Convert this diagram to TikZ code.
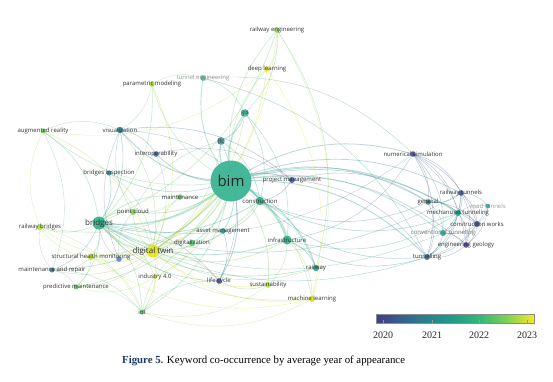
\documentclass[tikz,border=0pt]{standalone}
\usepackage{fontspec}
\setmainfont{Liberation Serif}
\newfontfamily\labfont{Open Sans}
\definecolor{vA}{HTML}{433E85}
\definecolor{vB}{HTML}{34618D}
\definecolor{vC}{HTML}{26828E}
\definecolor{vD}{HTML}{1F9E89}
\definecolor{vE}{HTML}{35B779}
\definecolor{vF}{HTML}{7AD151}
\definecolor{vG}{HTML}{FDE725}
\pgfdeclarehorizontalshading{viridisbar}{100bp}{color(0bp)=(vA); color(25bp)=(vA); color(33bp)=(vB); color(41bp)=(vC); color(50bp)=(vD); color(58bp)=(vE); color(66bp)=(vF); color(75bp)=(vG); color(100bp)=(vG)}
\definecolor{cbim}{HTML}{3DB595}
\definecolor{creng}{HTML}{8AD34D}
\definecolor{cdl}{HTML}{E3E419}
\definecolor{cteng}{HTML}{2DB27D}
\definecolor{cpmod}{HTML}{9DD93B}
\definecolor{cgis}{HTML}{3AB598}
\definecolor{car}{HTML}{6CCD5A}
\definecolor{cvis}{HTML}{2C728E}
\definecolor{clfc}{HTML}{3A98A0}
\definecolor{cinter}{HTML}{31688E}
\definecolor{cbrin}{HTML}{26828E}
\definecolor{cprm}{HTML}{3B528B}
\definecolor{ccons}{HTML}{22A785}
\definecolor{cmaint}{HTML}{5EC962}
\definecolor{cpc}{HTML}{7AD151}
\definecolor{cbr}{HTML}{25AB82}
\definecolor{crbr}{HTML}{A5DB36}
\definecolor{cam}{HTML}{1F9A8A}
\definecolor{cdig}{HTML}{4AC16D}
\definecolor{cdt}{HTML}{E5E419}
\definecolor{cshm}{HTML}{BDDF26}
\definecolor{cshmb}{HTML}{5A7DC0}
\definecolor{cmr}{HTML}{2A788E}
\definecolor{cpdm}{HTML}{54C568}
\definecolor{cind}{HTML}{D2E21B}
\definecolor{clc}{HTML}{3E4989}
\definecolor{ciot}{HTML}{5CC76E}
\definecolor{cinfra}{HTML}{25AB82}
\definecolor{csus}{HTML}{A8DB34}
\definecolor{crw}{HTML}{1F9E89}
\definecolor{cml}{HTML}{D8E219}
\definecolor{cns}{HTML}{414487}
\definecolor{crt}{HTML}{3B528B}
\definecolor{croad}{HTML}{21918C}
\definecolor{cgen}{HTML}{2C728E}
\definecolor{cmech}{HTML}{1F9E89}
\definecolor{ccw}{HTML}{3E4989}
\definecolor{cconv}{HTML}{20A486}
\definecolor{cgeo}{HTML}{443983}
\definecolor{ctun}{HTML}{31688E}
\definecolor{labgrey}{HTML}{333333}
\definecolor{capblue}{HTML}{1F3A68}
\begin{document}
\begin{tikzpicture}[x=1pt,y=-1pt,
  edge/.style={line width=#1, draw opacity=0.32},
  dot/.style={circle, inner sep=0pt, minimum size=#1, fill opacity=0.85},
  lab/.style={font=\labfont\fontsize{6}{7}\selectfont, text=labgrey, inner sep=0.5pt},
  biglab/.style={font=\labfont\fontsize{8}{9}\selectfont, text=labgrey, inner sep=0.5pt},
  fadelab/.style={font=\labfont\fontsize{6}{7}\selectfont, text=black!40, inner sep=0.5pt},
  ticklab/.style={font=\fontsize{10}{12}\selectfont, text=black!85, inner sep=0pt}]
\useasboundingbox (0,0) rectangle (553,381);
\fill[white] (0,0) rectangle (553,381);
% node coordinates
\foreach \n/\x/\y in {bim/231/181, reng/277/30, dl/267/69, teng/203/78, pmod/152/84, gis/245/113,
  ar/43/131, vis/120/130, lfc/221/141, inter/156/154, brin/109/173, prm/292/180, cons/260/201,
  maint/180/197, pc/133/212, br/99/223, rbr/40/227, am/223/231, dig/192/243, dt/153/251,
  shm/91/257, shmb/119/259, mr/52/270, pdm/76/287, ind/155/277, lc/219/281, iot/142/312,
  infra/287/240, sus/268/285, rw/316/268, ml/312/299, ns/413/154, rt/461/193, road/488/206,
  gen/428/202, mech/458/213, cw/477/224, conv/443/233, geo/466/245, tun/427/257}
  \coordinate (\n) at (\x,\y);
% edges
\foreach \a/\b/\w in {bim/reng/0.6, bim/dl/0.6, bim/teng/0.9, bim/pmod/0.6, bim/gis/1.2, bim/vis/1.0,
  bim/lfc/1.2, bim/inter/0.9, bim/brin/0.7, bim/prm/1.0, bim/cons/1.6, bim/maint/0.9, bim/pc/0.9,
  bim/br/1.6, bim/rbr/0.6, bim/am/0.9, bim/dig/0.9, bim/dt/1.6, bim/shm/0.8, bim/mr/0.6, bim/pdm/0.6,
  bim/ind/0.7, bim/lc/0.8, bim/iot/0.6, bim/infra/1.4, bim/sus/0.7, bim/rw/0.8, bim/ml/0.6,
  bim/ns/0.8, bim/rt/0.8, bim/gen/0.8, bim/mech/1.0, bim/cw/0.7, bim/conv/0.8, bim/geo/0.6,
  bim/tun/1.0, bim/ar/0.6,
  reng/dl/0.6, reng/gis/0.6, reng/br/0.6, reng/dt/0.6, reng/rw/0.5, reng/ml/0.4, dl/dt/0.8,
  dl/ml/0.5, dl/ar/0.4, pmod/br/0.6, pmod/dt/0.5, pmod/vis/0.4, pmod/teng/0.4, teng/gis/0.5,
  teng/tun/0.5, teng/ns/0.4, gis/lfc/0.9, gis/cons/0.6, gis/infra/0.6, gis/dt/0.6, ar/br/0.6,
  ar/dt/0.6, ar/vis/0.4, ar/mr/0.4, vis/inter/0.5, vis/br/0.6, vis/prm/0.6, vis/cons/0.5,
  vis/dt/0.5, lfc/cons/0.6, lfc/dt/0.5, lfc/lc/0.5, inter/dt/0.5, inter/prm/0.4, brin/br/0.7,
  brin/dt/0.5, prm/gen/0.5, prm/tun/0.5, prm/cons/0.6, ns/tun/0.6, ns/rt/0.5, ns/gen/0.5,
  ns/mech/0.5, ns/cw/0.5, ns/geo/0.4, ns/conv/0.5, ns/infra/0.5, ns/br/0.4, rt/gen/0.6,
  rt/mech/0.6, rt/road/0.5, rt/cw/0.5, rt/conv/0.5, rt/geo/0.5, rt/tun/0.5, gen/mech/0.6,
  gen/cw/0.5, gen/conv/0.5, gen/tun/0.5, mech/cw/0.6, mech/conv/0.6, mech/geo/0.5, mech/tun/0.6,
  mech/road/0.4, cw/geo/0.5, cw/conv/0.5, cw/tun/0.5, conv/geo/0.5, conv/tun/0.6, geo/tun/0.5,
  road/cw/0.4, road/geo/0.4, road/tun/0.4, tun/cons/0.6, tun/infra/0.6, tun/br/0.5, gen/cons/0.6,
  mech/cons/0.7, mech/infra/0.6, conv/br/0.5, rt/br/0.5, cons/infra/0.8, cons/dt/0.8,
  cons/br/0.8, cons/rw/0.6, cons/am/0.6, infra/dt/0.8, infra/br/0.8, infra/rw/0.7, infra/sus/0.5,
  infra/ml/0.5, rw/br/0.6, rw/dt/0.6, ml/dt/0.7, ml/shm/0.5, ml/iot/0.5, ml/br/0.5, sus/dt/0.6,
  sus/lc/0.5, sus/iot/0.4, dt/br/1.4, dt/pc/0.8, dt/maint/0.7, dt/dig/0.8, dt/am/0.7, dt/shm/0.9,
  dt/ind/0.7, dt/iot/0.7, dt/lc/0.6, dt/pdm/0.6, dt/mr/0.5, dt/rbr/0.5, br/pc/0.8, br/shm/0.8,
  br/mr/0.6, br/rbr/0.6, br/maint/0.7, br/pdm/0.5, br/iot/0.5, br/ind/0.5, br/lc/0.5, shm/pdm/0.5,
  shm/mr/0.5, shm/iot/0.5, shm/rbr/0.5, mr/rbr/0.4, mr/pdm/0.4, mr/iot/0.4, pdm/iot/0.4,
  ind/iot/0.5, ind/pdm/0.4, iot/lc/0.4, iot/dig/0.5, maint/pc/0.5, dig/ind/0.5, am/lc/0.5,
  am/dig/0.5, lc/br/0.5, shmb/br/0.5, shmb/pc/0.5, shmb/vis/0.5, shmb/dt/0.5, rbr/iot/0.4,
  rbr/ar/0.4, pc/vis/0.5, pc/lfc/0.5}
  \draw[edge=\w pt, draw=c\a!50!c\b] (\a) to[bend left=24] (\b);
% dots
\foreach \n/\r in {reng/5.6, dl/5.6, teng/5.6, pmod/5.6, gis/7.6, ar/5, vis/6.4, lfc/7.6, inter/5.6,
  brin/5, prm/6, cons/8.4, maint/5.6, pc/6, br/13, rbr/6, am/5.6, dig/6.4, dt/13, shm/6, shmb/5.6,
  mr/5, pdm/5, ind/4, lc/5.6, iot/5, infra/9, sus/5.6, rw/6.4, ml/6, ns/5.6, rt/5.6, road/4.4,
  gen/5.6, mech/6, cw/6, conv/6, geo/5.6, tun/6}
  \node[dot=\r pt, fill=c\n] (\n-d) at (\n) {};
\node[dot=41pt, fill=cbim, fill opacity=0.95] (bim-d) at (bim) {};
% labels
\foreach \n/\t in {reng/railway engineering, dl/deep learning, pmod/parametric modeling, gis/gis,
  ar/augmented reality, vis/visualization, lfc/lfc, inter/interoperability, brin/bridges inspection,
  prm/project management, cons/construction, maint/maintenance, pc/point cloud, rbr/railway bridges,
  am/asset management, dig/digitalization, shm/structural health monitoring, mr/maintenance and repair,
  pdm/predictive maintenance, ind/industry 4.0, lc/life cycle, iot/iot, infra/infrastructure,
  sus/sustainability, rw/railway, ml/machine learning, ns/numerical simulation, rt/railway tunnels,
  gen/general, mech/mechanized tunneling, cw/construction works, geo/engineering geology,
  tun/tunnelling}
  \node[lab] (\n-l) at (\n) {\t};
\node[fadelab] (teng-l) at (teng) {tunnel engineering};
\node[fadelab] (road-l) at (road) {road tunnels};
\node[lab, text=black!55] (conv-l) at (conv) {conventional tunneling};
\node[biglab] (br-l) at (br) {bridges};
\node[biglab] (dt-l) at (dt) {digital twin};
\node[font=\labfont\fontsize{15}{16}\selectfont, text=black!85, inner sep=0pt] (bim-l) at (bim) {bim};
% colour bar
\node[draw=black!45, line width=0.4pt, shading=viridisbar, minimum width=158pt, minimum height=9pt,
  inner sep=0pt, anchor=north west] (bar) at (376,314) {};
\foreach \t/\x in {2020/383, 2021/432, 2022/479, 2023/527} {
  \coordinate (tk\t) at (\x,323);
  \draw[black!40, line width=0.5pt] (tk\t) -- ++(0,-3);
  \node[ticklab] (tl\t) at (\x,335) {\t};
}
% caption
\node[anchor=west, inner sep=0pt, font=\fontsize{10.8}{13}\selectfont] (cap) at (122,361)
  {\textcolor{capblue}{\textbf{Figure 5.}} Keyword co-occurrence by average year of appearance};
\end{tikzpicture}
\end{document}
